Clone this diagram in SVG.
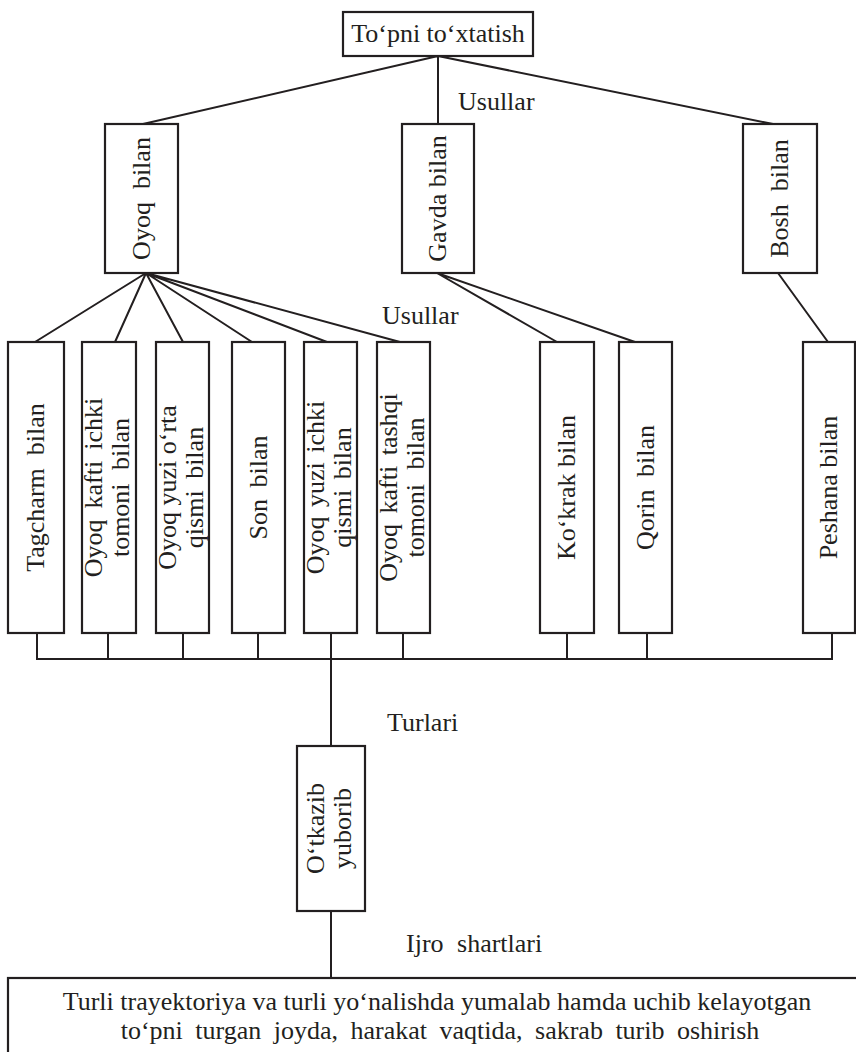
<svg xmlns="http://www.w3.org/2000/svg" width="856" height="1052" viewBox="0 0 856 1052">
<style>
.box{fill:#fff;stroke:#231f20;stroke-width:2.2}
.ln{fill:none;stroke:#231f20;stroke-width:2}
text{font-family:"Liberation Serif","Times New Roman",serif;font-size:26px;fill:#231f20}
.v{text-anchor:middle}
</style>
<rect width="856" height="1052" fill="#fff"/>
<g id="connectors" class="ln">
<path d="M438,56 L143,124 M438,56 L438,124 M438,56 L773,124"/>
<path d="M146,273 L35,342 M146,273 L115,342 M146,273 L183,342 M146,273 L252,342 M146,273 L327,342 M146,273 L400,342"/>
<path d="M437,273 L557,342 M437,273 L635,342 M778,273 L828,342"/>
<path d="M37,633 V659 M108,633 V659 M183,633 V659 M258,633 V659 M403,633 V659 M567,633 V659 M647,633 V659 M832,633 V659 M36,659 H833"/>
<path d="M331,633 V746 M331,911 V978"/>
</g>
<g id="n-top"><rect class="box" x="343" y="12" width="190" height="44"/><text x="438" y="42" text-anchor="middle">To‘pni to‘xtatish</text></g>
<text x="458" y="110">Usullar</text>
<g id="n-oyoq"><rect class="box" x="105" y="124" width="73" height="149"/><text class="v" transform="translate(150,198.5) rotate(-90)" style="word-spacing:6.5px">Oyoq bilan</text></g>
<g id="n-gavda"><rect class="box" x="402" y="124" width="72" height="149"/><text class="v" transform="translate(446,198.5) rotate(-90)">Gavda bilan</text></g>
<g id="n-bosh"><rect class="box" x="743" y="124" width="74" height="149"/><text class="v" transform="translate(788,198.5) rotate(-90)" style="word-spacing:6.5px">Bosh bilan</text></g>
<text x="382" y="324">Usullar</text>
<g id="n-tagcharm"><rect class="box" x="8" y="342" width="56" height="291"/><text class="v" transform="translate(44,487.5) rotate(-90)" style="word-spacing:6.5px">Tagcharm bilan</text></g>
<g id="n-kafti-ichki"><rect class="box" x="82" y="342" width="54" height="291"/><text class="v" transform="translate(102,487.5) rotate(-90)" style="word-spacing:4.5px">Oyoq kafti ichki</text><text class="v" transform="translate(129,487.5) rotate(-90)" style="word-spacing:7px">tomoni bilan</text></g>
<g id="n-yuzi-orta"><rect class="box" x="156" y="342" width="53" height="291"/><text class="v" transform="translate(175.5,487.5) rotate(-90)">Oyoq yuzi o‘rta</text><text class="v" transform="translate(202.5,487.5) rotate(-90)" style="word-spacing:5px">qismi bilan</text></g>
<g id="n-son"><rect class="box" x="232" y="342" width="53" height="291"/><text class="v" transform="translate(266.5,487.5) rotate(-90)" style="word-spacing:5px">Son bilan</text></g>
<g id="n-yuzi-ichki"><rect class="box" x="304" y="342" width="53" height="291"/><text class="v" transform="translate(323.5,487.5) rotate(-90)" style="word-spacing:3px">Oyoq yuzi ichki</text><text class="v" transform="translate(350.5,487.5) rotate(-90)" style="word-spacing:4px">qismi bilan</text></g>
<g id="n-kafti-tashqi"><rect class="box" x="377" y="342" width="53" height="291"/><text class="v" transform="translate(396.5,487.5) rotate(-90)" style="word-spacing:4px">Oyoq kafti tashqi</text><text class="v" transform="translate(423.5,487.5) rotate(-90)" style="word-spacing:8px">tomoni bilan</text></g>
<g id="n-kokrak"><rect class="box" x="540" y="342" width="54" height="291"/><text class="v" transform="translate(575,487.5) rotate(-90)">Ko‘krak bilan</text></g>
<g id="n-qorin"><rect class="box" x="619" y="342" width="53" height="291"/><text class="v" transform="translate(653.5,487.5) rotate(-90)" style="word-spacing:6px">Qorin bilan</text></g>
<g id="n-peshana"><rect class="box" x="803" y="342" width="52" height="291"/><text class="v" transform="translate(837,487.5) rotate(-90)">Peshana bilan</text></g>
<text x="387" y="731">Turlari</text>
<g id="n-otkazib"><rect class="box" x="297" y="746" width="68" height="165"/><text class="v" transform="translate(324,828.5) rotate(-90)">O‘tkazib</text><text class="v" transform="translate(351,828.5) rotate(-90)">yuborib</text></g>
<text x="406" y="952" style="word-spacing:7px">Ijro shartlari</text>
<g id="n-shartlar"><rect class="box" x="8" y="978" width="870" height="100"/><text x="437" y="1010" text-anchor="middle">Turli trayektoriya va turli yo‘nalishda yumalab hamda uchib kelayotgan</text><text x="440" y="1039" text-anchor="middle" style="word-spacing:6px">to‘pni turgan joyda, harakat vaqtida, sakrab turib oshirish</text></g>
</svg>
